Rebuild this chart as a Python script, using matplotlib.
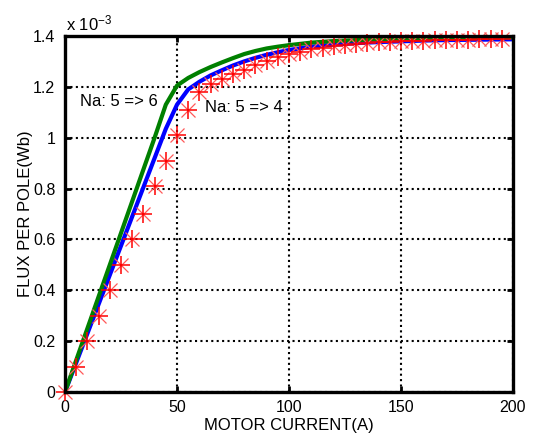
import matplotlib
matplotlib.use("Agg")
import matplotlib.pyplot as plt

plt.rcParams['font.family'] = ['Liberation Sans', 'DejaVu Sans']
plt.rcParams['mathtext.fontset'] = 'custom'
plt.rcParams['mathtext.rm'] = 'Liberation Sans'
plt.rcParams['mathtext.it'] = 'Liberation Sans'

# Motor current (A) and flux per pole (x 1e-3 Wb)
current_lines = [0, 5, 10, 15, 20, 25, 30, 35, 40, 45, 50, 55, 60, 65, 70, 75, 80,
                 85, 90, 95, 100, 110, 120, 130, 140, 150, 160, 170, 180, 190, 200]
flux_na5 = [0, 0.115, 0.23, 0.345, 0.46, 0.575, 0.69, 0.805, 0.92, 1.035, 1.13,
            1.19, 1.22, 1.245, 1.265, 1.284, 1.30, 1.314, 1.326, 1.336, 1.345,
            1.358, 1.366, 1.372, 1.376, 1.379, 1.382, 1.384, 1.385, 1.386, 1.387]
flux_na6 = [0, 0.125, 0.25, 0.375, 0.50, 0.625, 0.75, 0.875, 1.0, 1.13, 1.205,
            1.235, 1.258, 1.278, 1.296, 1.313, 1.329, 1.341, 1.351, 1.358, 1.364,
            1.374, 1.38, 1.384, 1.387, 1.389, 1.391, 1.392, 1.393, 1.394, 1.395]

current_pts = list(range(0, 200, 5))
flux_na4 = [0, 0.1, 0.2, 0.3, 0.4, 0.5, 0.6, 0.7, 0.81, 0.91, 1.01, 1.11, 1.18,
            1.213, 1.232, 1.252, 1.268, 1.286, 1.302, 1.316, 1.328, 1.338, 1.347,
            1.354, 1.36, 1.365, 1.369, 1.372, 1.375, 1.377, 1.379, 1.381, 1.382,
            1.383, 1.384, 1.385, 1.386, 1.387, 1.388, 1.388]

fig = plt.figure(figsize=(5.36, 4.33), dpi=100)
ax = fig.add_axes([65 / 536, 41 / 433, 448 / 536, 356 / 433])

ax.plot(current_lines, flux_na5, color=(0, 0, 1), linewidth=3.0, zorder=3)
ax.plot(current_lines, flux_na6, color=(0, 0.5, 0), linewidth=3.0, zorder=3)
# asterisk markers: an upright cross plus a lighter diagonal cross
ax.plot(current_pts, flux_na4, linestyle='none', marker='+',
        markersize=13, markeredgewidth=1.1, color=(1, 0, 0), zorder=5,
        clip_on=False)
ax.plot(current_pts, flux_na4, linestyle='none', marker='x',
        markersize=9.5, markeredgewidth=0.9, color=(1, 0.35, 0.35), zorder=4,
        clip_on=False)

ax.set_xlim(0, 200)
ax.set_ylim(0, 1.4)
ax.set_xticks([0, 50, 100, 150, 200])
ax.set_yticks([0, 0.2, 0.4, 0.6, 0.8, 1.0, 1.2, 1.4])
ax.set_yticklabels(['0', '0.2', '0.4', '0.6', '0.8', '1', '1.2', '1.4'])

ax.grid(True, color='black', linestyle=(0, (1, 1.6)), linewidth=1.5)
ax.set_axisbelow(True)
for sp in ax.spines.values():
    sp.set_linewidth(2.4)
    sp.set_color('black')
    sp.set_zorder(6)

ax.tick_params(direction='in', top=True, right=True, length=4, width=2,
               labelsize=11.5, colors='black')
ax.tick_params(axis='x', pad=6)
ax.tick_params(axis='y', pad=7)

ax.set_xlabel('MOTOR CURRENT(A)', fontsize=12, labelpad=2)
ax.set_ylabel('FLUX PER POLE(Wb)', fontsize=12)
ax.yaxis.set_label_coords(-32 / 448, 0.5)

fig.text(66 / 536, 1 - 30 / 433, r'x 10$^{-3}$', fontsize=12,
         ha='left', va='baseline')

ax.text(6.7, 1.144, 'Na: 5 => 6', fontsize=12, ha='left', va='center')
ax.text(62.5, 1.119, 'Na: 5 => 4', fontsize=12, ha='left', va='center')

fig.savefig('out.png', dpi=100, facecolor='white')
